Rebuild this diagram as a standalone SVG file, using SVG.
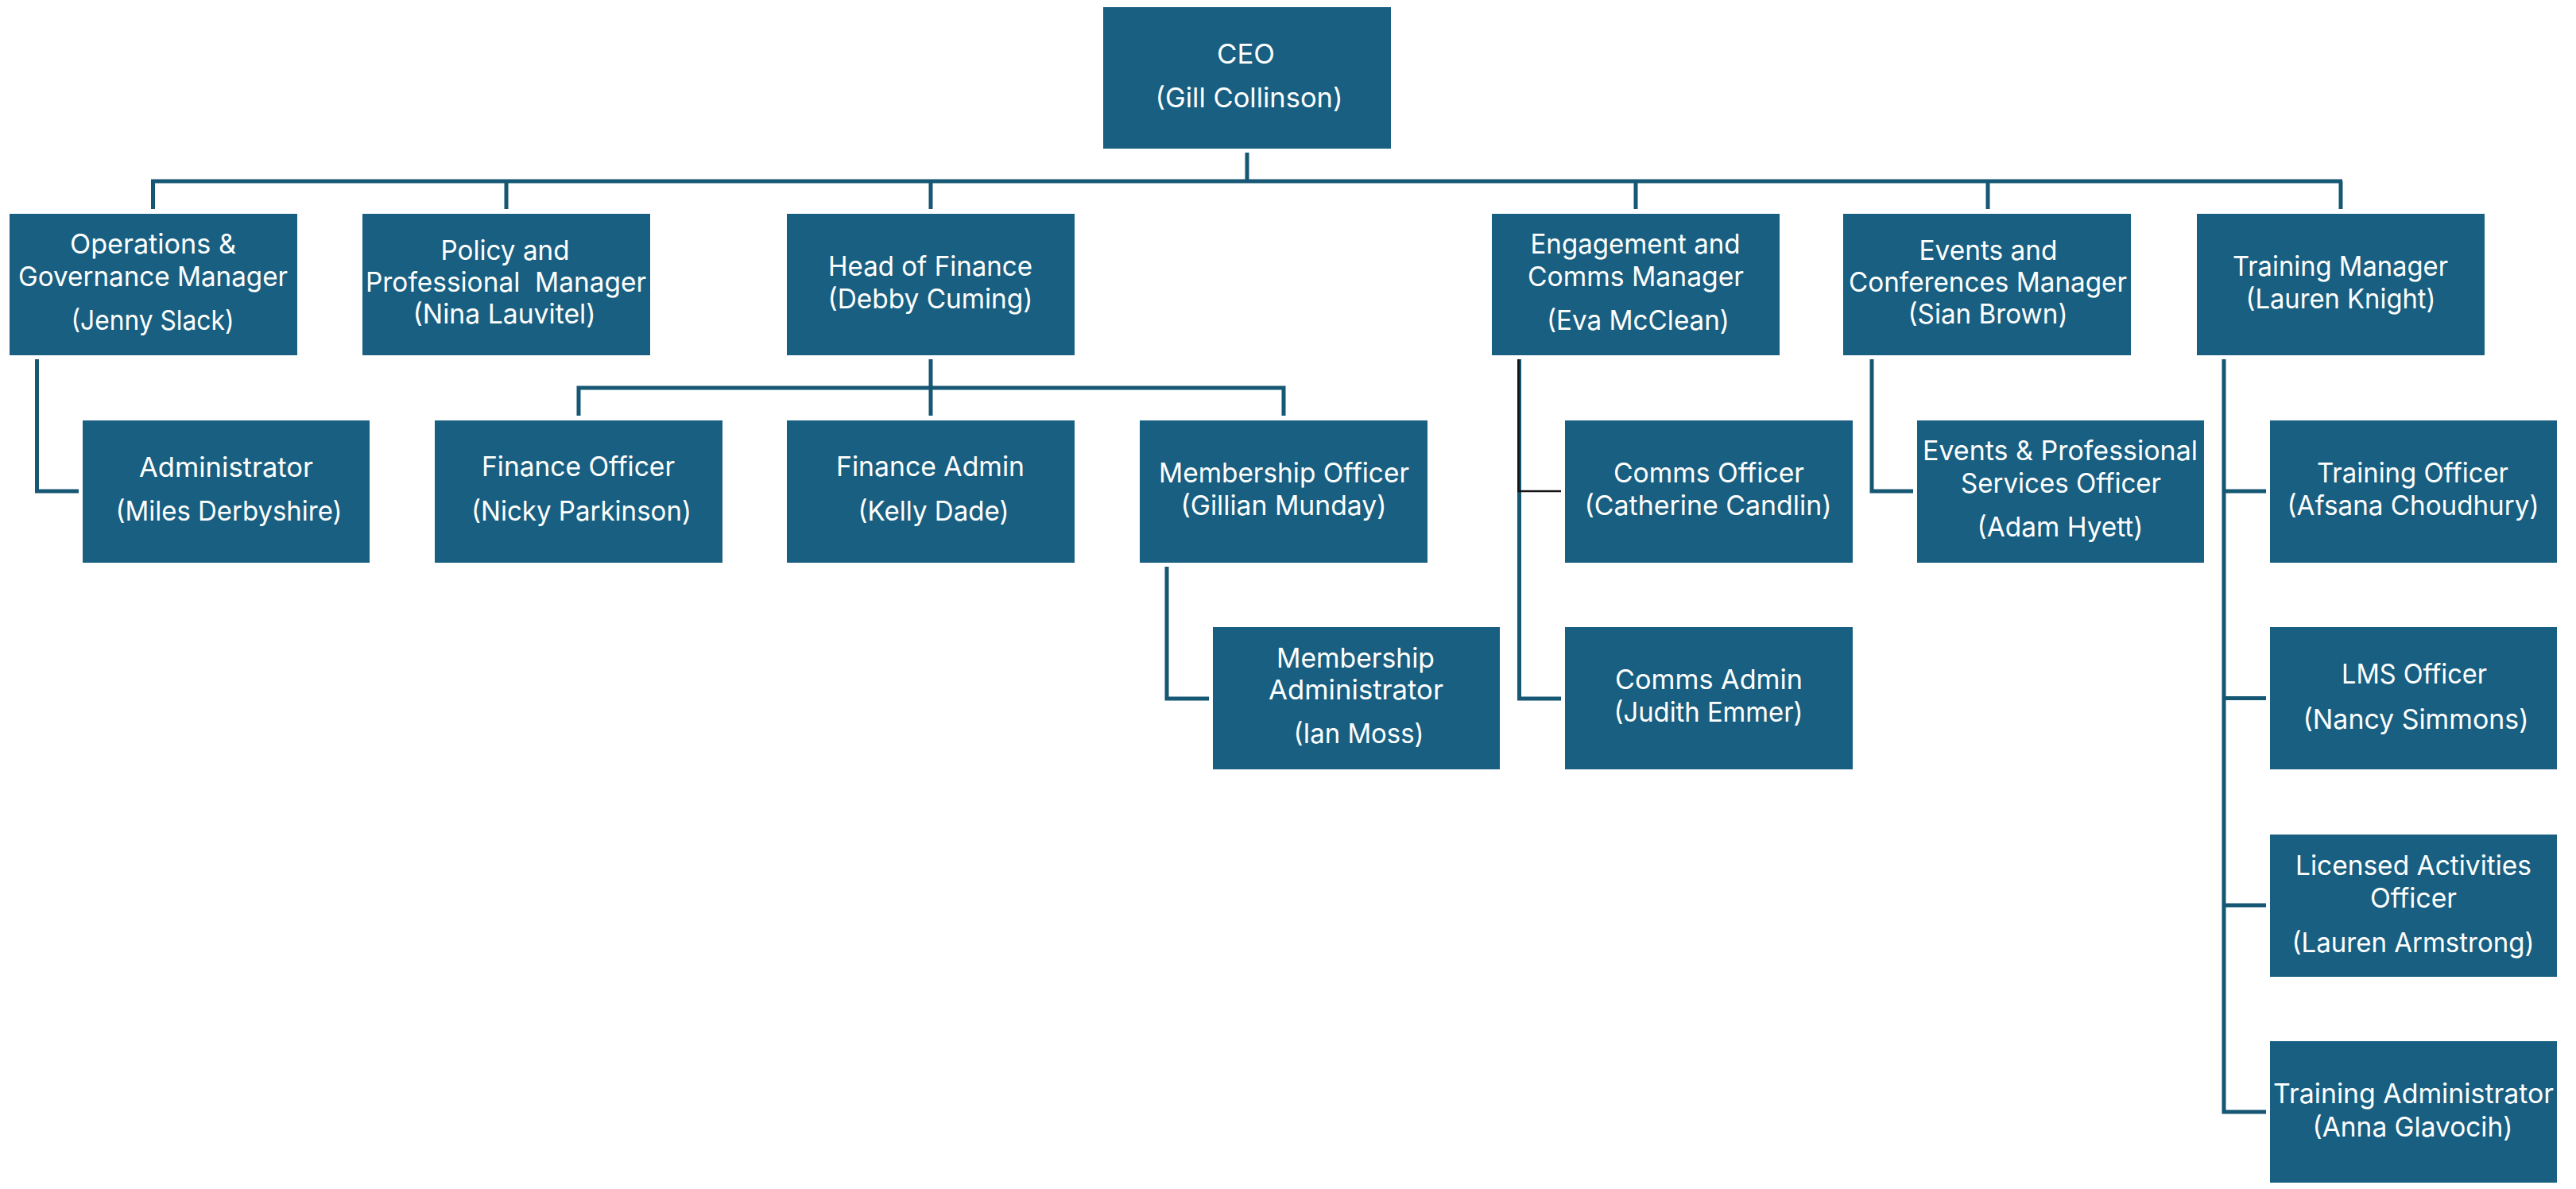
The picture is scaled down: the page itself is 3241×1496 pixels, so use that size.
<svg xmlns="http://www.w3.org/2000/svg" width="3241" height="1496" viewBox="0 0 3241 1496">
<style>
.box{fill:#185F81}
.t{font-family:Inter,"Open Sans","Liberation Sans",sans-serif;font-size:34px;fill:#FFFFFF;text-anchor:middle}
.ln{fill:none;stroke:#165774;stroke-width:5;stroke-linejoin:miter;stroke-linecap:butt}
.blk{fill:none;stroke:#111111;stroke-width:2.5}
</style>
<rect width="3241" height="1496" fill="#FFFFFF"/>
<g id="connectors">
<path class="ln" d="M1569,192 V228"/>
<path class="ln" d="M190,228 H2947"/>
<path class="ln" d="M192.5,228 V263 M637,228 V263 M1171,228 V263 M2058,228 V263 M2501,228 V263 M2945,228 V263"/>
<path class="ln" d="M46.5,452 V618 H99"/>
<path class="ln" d="M1171,452 V523 M728,523 V488 H1615 V523"/>
<path class="ln" d="M1468,713 V879 H1521"/>
<path class="ln" d="M1911.5,452 V879 H1964"/>
<path class="blk" d="M1910.5,452 V618 H1964"/>
<path class="ln" d="M2355,452 V618 H2407"/>
<path class="ln" d="M2798,452 V1399 H2851 M2798,618 H2851 M2798,878.5 H2851 M2798,1139 H2851"/>
</g>
<g id="ceo"><rect class="box" x="1388" y="9" width="362" height="178"/>
<text class="t" x="1567.5" y="80" textLength="73" lengthAdjust="spacingAndGlyphs">CEO</text>
<text class="t" x="1571.5" y="135" textLength="236" lengthAdjust="spacingAndGlyphs">(Gill Collinson)</text></g>
<g id="ops"><rect class="box" x="12" y="269" width="362" height="178"/>
<text class="t" x="192.5" y="319" textLength="209" lengthAdjust="spacingAndGlyphs">Operations &amp;</text>
<text class="t" x="192.5" y="360" textLength="339" lengthAdjust="spacingAndGlyphs">Governance Manager</text>
<text class="t" x="192" y="415" textLength="205" lengthAdjust="spacingAndGlyphs">(Jenny Slack)</text></g>
<g id="policy"><rect class="box" x="456" y="269" width="362" height="178"/>
<text class="t" x="635.5" y="327" textLength="162" lengthAdjust="spacingAndGlyphs">Policy and</text>
<text class="t" x="636.5" y="367" textLength="353" lengthAdjust="spacingAndGlyphs" xml:space="preserve">Professional  Manager</text>
<text class="t" x="634.5" y="407" textLength="230" lengthAdjust="spacingAndGlyphs">(Nina Lauvitel)</text></g>
<g id="hof"><rect class="box" x="990" y="269" width="362" height="178"/>
<text class="t" x="1170.5" y="347" textLength="257" lengthAdjust="spacingAndGlyphs">Head of Finance</text>
<text class="t" x="1170.5" y="388" textLength="258" lengthAdjust="spacingAndGlyphs">(Debby Cuming)</text></g>
<g id="engagement"><rect class="box" x="1877" y="269" width="362" height="178"/>
<text class="t" x="2057.5" y="319" textLength="264" lengthAdjust="spacingAndGlyphs">Engagement and</text>
<text class="t" x="2058" y="360" textLength="272" lengthAdjust="spacingAndGlyphs">Comms Manager</text>
<text class="t" x="2061" y="415" textLength="230" lengthAdjust="spacingAndGlyphs">(Eva McClean)</text></g>
<g id="events"><rect class="box" x="2319" y="269" width="362" height="178"/>
<text class="t" x="2501.5" y="327" textLength="174" lengthAdjust="spacingAndGlyphs">Events and</text>
<text class="t" x="2501" y="367" textLength="350" lengthAdjust="spacingAndGlyphs">Conferences Manager</text>
<text class="t" x="2501" y="407" textLength="201" lengthAdjust="spacingAndGlyphs">(Sian Brown)</text></g>
<g id="training-manager"><rect class="box" x="2764" y="269" width="362" height="178"/>
<text class="t" x="2944.5" y="347" textLength="271" lengthAdjust="spacingAndGlyphs">Training Manager</text>
<text class="t" x="2945" y="388" textLength="239" lengthAdjust="spacingAndGlyphs">(Lauren Knight)</text></g>
<g id="administrator"><rect class="box" x="104" y="529" width="361" height="179"/>
<text class="t" x="284.5" y="600" textLength="219" lengthAdjust="spacingAndGlyphs">Administrator</text>
<text class="t" x="288" y="655" textLength="285" lengthAdjust="spacingAndGlyphs">(Miles Derbyshire)</text></g>
<g id="finance-officer"><rect class="box" x="547" y="529" width="362" height="179"/>
<text class="t" x="727.5" y="599" textLength="243" lengthAdjust="spacingAndGlyphs">Finance Officer</text>
<text class="t" x="731.5" y="655" textLength="277" lengthAdjust="spacingAndGlyphs">(Nicky Parkinson)</text></g>
<g id="finance-admin"><rect class="box" x="990" y="529" width="362" height="179"/>
<text class="t" x="1170.5" y="599" textLength="237" lengthAdjust="spacingAndGlyphs">Finance Admin</text>
<text class="t" x="1174.5" y="655" textLength="190" lengthAdjust="spacingAndGlyphs">(Kelly Dade)</text></g>
<g id="membership-officer"><rect class="box" x="1434" y="529" width="362" height="179"/>
<text class="t" x="1615.5" y="607" textLength="315" lengthAdjust="spacingAndGlyphs">Membership Officer</text>
<text class="t" x="1615" y="648" textLength="259" lengthAdjust="spacingAndGlyphs">(Gillian Munday)</text></g>
<g id="comms-officer"><rect class="box" x="1969" y="529" width="362" height="179"/>
<text class="t" x="2150" y="607" textLength="240" lengthAdjust="spacingAndGlyphs">Comms Officer</text>
<text class="t" x="2149" y="648" textLength="311" lengthAdjust="spacingAndGlyphs">(Catherine Candlin)</text></g>
<g id="events-professional"><rect class="box" x="2412" y="529" width="361" height="179"/>
<text class="t" x="2592" y="579" textLength="346" lengthAdjust="spacingAndGlyphs">Events &amp; Professional</text>
<text class="t" x="2593" y="620" textLength="252" lengthAdjust="spacingAndGlyphs">Services Officer</text>
<text class="t" x="2592" y="675" textLength="209" lengthAdjust="spacingAndGlyphs">(Adam Hyett)</text></g>
<g id="training-officer"><rect class="box" x="2856" y="529" width="361" height="179"/>
<text class="t" x="3035.5" y="607" textLength="241" lengthAdjust="spacingAndGlyphs">Training Officer</text>
<text class="t" x="3036" y="648" textLength="317" lengthAdjust="spacingAndGlyphs">(Afsana Choudhury)</text></g>
<g id="membership-administrator"><rect class="box" x="1526" y="789" width="361" height="179"/>
<text class="t" x="1705.5" y="840" textLength="199" lengthAdjust="spacingAndGlyphs">Membership</text>
<text class="t" x="1706" y="880" textLength="220" lengthAdjust="spacingAndGlyphs">Administrator</text>
<text class="t" x="1709.5" y="935" textLength="164" lengthAdjust="spacingAndGlyphs">(Ian Moss)</text></g>
<g id="comms-admin"><rect class="box" x="1969" y="789" width="362" height="179"/>
<text class="t" x="2150" y="867" textLength="236" lengthAdjust="spacingAndGlyphs">Comms Admin</text>
<text class="t" x="2149.5" y="908" textLength="238" lengthAdjust="spacingAndGlyphs">(Judith Emmer)</text></g>
<g id="lms-officer"><rect class="box" x="2856" y="789" width="361" height="179"/>
<text class="t" x="3037.5" y="860" textLength="183" lengthAdjust="spacingAndGlyphs">LMS Officer</text>
<text class="t" x="3039.5" y="917" textLength="284" lengthAdjust="spacingAndGlyphs">(Nancy Simmons)</text></g>
<g id="licensed-activities"><rect class="box" x="2856" y="1050" width="361" height="179"/>
<text class="t" x="3036.5" y="1101" textLength="297" lengthAdjust="spacingAndGlyphs">Licensed Activities</text>
<text class="t" x="3036.5" y="1142" textLength="109" lengthAdjust="spacingAndGlyphs">Officer</text>
<text class="t" x="3036" y="1198" textLength="305" lengthAdjust="spacingAndGlyphs">(Lauren Armstrong)</text></g>
<g id="training-administrator"><rect class="box" x="2856" y="1310" width="361" height="178"/>
<text class="t" x="3036.5" y="1388" textLength="353" lengthAdjust="spacingAndGlyphs">Training Administrator</text>
<text class="t" x="3035.5" y="1430" textLength="252" lengthAdjust="spacingAndGlyphs">(Anna Glavocih)</text></g>
</svg>
